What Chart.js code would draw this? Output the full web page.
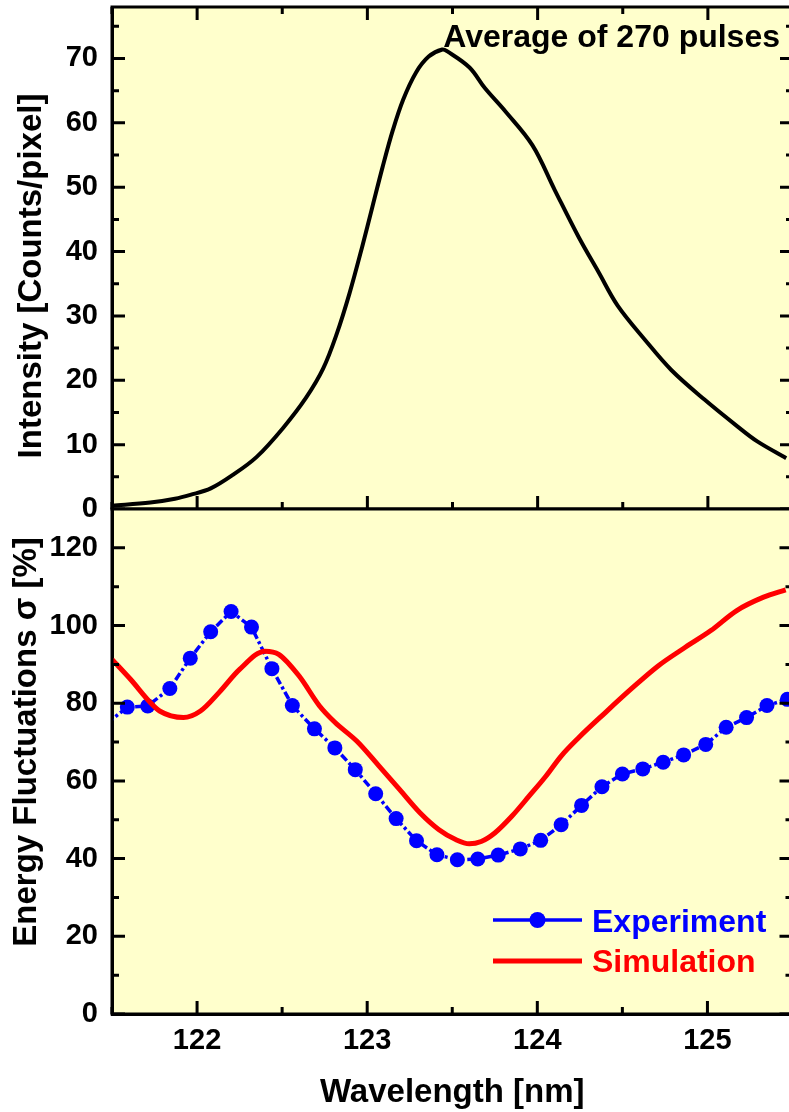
<!DOCTYPE html>
<html>
<head>
<meta charset="utf-8">
<script src="https://cdn.jsdelivr.net/npm/chart.js@4.4.1/dist/chart.umd.min.js"></script>
<style>
html,body{margin:0;padding:0;background:#ffffff;overflow:hidden;width:789px;height:1112px;}
#topChart{position:absolute;left:0;top:0;width:800px;height:522px;}
#botChart{position:absolute;left:0;top:500px;width:800px;height:612px;}
</style>
</head>
<body>
<canvas id="topChart" width="800" height="522"></canvas>
<canvas id="botChart" width="800" height="612"></canvas>
<script>
// ---------- data ----------
const X_MIN = 121.5, X_MAX = 125.5;
const xMajorTicks = [122, 123, 124, 125];
const xMinorTicks = [121.5, 122.5, 123.5, 124.5, 125.5];
const intensityMajorTicks = [0, 10, 20, 30, 40, 50, 60, 70];
const intensityMinorTicks = [5, 15, 25, 35, 45, 55, 65, 75];
const sigmaMajorTicks = [0, 20, 40, 60, 80, 100, 120];
const sigmaMinorTicks = [10, 30, 50, 70, 90, 110];

const intensityWavelength = [121.50, 121.725, 121.87, 121.96, 122.08, 122.21, 122.35, 122.505, 122.64, 122.74, 122.82, 122.895, 122.97, 123.03, 123.09, 123.15, 123.21, 123.285, 123.36, 123.44, 123.47, 123.60, 123.69, 123.81, 123.97, 124.10, 124.24, 124.36, 124.47, 124.63, 124.785, 124.98, 125.175, 125.29, 125.46];
const intensityCounts = [0.5, 1.0, 1.6, 2.2, 3.2, 5.3, 8.1, 12.6, 17.3, 21.8, 27.2, 33.5, 40.8, 47.0, 53.2, 58.9, 63.6, 67.8, 70.3, 71.4, 71.1, 68.6, 65.4, 61.8, 56.5, 49.6, 42.3, 36.7, 31.6, 26.3, 21.6, 17.0, 12.8, 10.5, 7.9];

const experimentWavelength = [121.47, 121.59, 121.71, 121.84, 121.96, 122.08, 122.20, 122.32, 122.44, 122.56, 122.69, 122.81, 122.93, 123.05, 123.17, 123.29, 123.41, 123.53, 123.65, 123.77, 123.90, 124.02, 124.14, 124.26, 124.38, 124.50, 124.62, 124.74, 124.86, 124.99, 125.11, 125.23, 125.35, 125.47];
const experimentSigma = [74.8, 79.0, 79.3, 83.8, 91.6, 98.4, 103.6, 99.6, 88.9, 79.4, 73.4, 68.5, 62.9, 56.7, 50.3, 44.6, 41.0, 39.7, 39.9, 40.9, 42.5, 44.7, 48.7, 53.7, 58.5, 61.8, 63.1, 64.8, 66.7, 69.4, 73.8, 76.3, 79.4, 81.0];

const simulationWavelength = [121.50, 121.61, 121.725, 121.78, 121.92, 122.02, 122.13, 122.25, 122.40, 122.48, 122.60, 122.72, 122.81, 122.94, 123.07, 123.19, 123.31, 123.42, 123.52, 123.60, 123.67, 123.75, 123.85, 123.95, 124.05, 124.14, 124.24, 124.40, 124.55, 124.71, 124.87, 125.02, 125.17, 125.33, 125.46];
const simulationSigma = [91.3, 86.1, 80.2, 78.0, 76.3, 78.0, 82.8, 88.7, 93.4, 92.6, 87.0, 79.3, 75.1, 70.2, 63.8, 57.8, 51.8, 47.5, 44.9, 43.8, 44.4, 46.6, 50.9, 56.0, 61.2, 66.4, 71.0, 77.6, 83.6, 89.6, 94.4, 98.7, 103.8, 107.3, 109.2];

const topYTitle = 'Intensity [Counts/pixel]';
const botYTitle = 'Energy Fluctuations \u03c3 [%]';
const xTitle = 'Wavelength [nm]';
const annotationText = 'Average of 270 pulses';
const experimentLabel = 'Experiment';
const simulationLabel = 'Simulation';

// ---------- helpers ----------
const FONT = '"Liberation Sans", Arial, Helvetica, sans-serif';
const BG = '#FFFFCC';
const toXY = (xs, ys) => xs.map((x, i) => ({x: x, y: ys[i]}));
const setTicks = arr => (s => { s.ticks = arr.map(v => ({value: v})); });
const fitY = s => { s.width = 112; s.paddingTop = 0; s.paddingBottom = 0; s.paddingLeft = 0; s.paddingRight = 0; };
const fitX = h => (s => { s.height = h; s.paddingLeft = 0; s.paddingRight = 0; s.paddingTop = 0; s.paddingBottom = 0; });

const framePlugin = {
  id: 'frame',
  beforeDraw(chart, args, opts) {
    const {ctx, chartArea: a} = chart;
    ctx.save();
    ctx.fillStyle = BG;
    ctx.fillRect(a.left, a.top, a.right - a.left, a.bottom - a.top);
    ctx.restore();
  },
  afterDraw(chart, args, opts) {
    const {ctx, chartArea: a, scales} = chart;
    const xs = scales.x, ys = scales.y;
    const MAJ = 13, MIN = 7;
    ctx.save();
    ctx.strokeStyle = '#000';
    ctx.lineWidth = 3;
    ctx.lineCap = 'butt';
    ctx.beginPath();
    const xt = (vals, len) => vals.forEach(v => {
      const p = xs.getPixelForValue(v);
      ctx.moveTo(p, a.bottom); ctx.lineTo(p, a.bottom - len);
      if (opts.topTicks) { ctx.moveTo(p, a.top); ctx.lineTo(p, a.top + len); }
    });
    const yt = (vals, len) => vals.forEach(v => {
      const p = ys.getPixelForValue(v);
      ctx.moveTo(a.left, p); ctx.lineTo(a.left + len, p);
      ctx.moveTo(a.right, p); ctx.lineTo(a.right - len, p);
    });
    xt(xMajorTicks, MAJ); xt(xMinorTicks, MIN);
    yt(opts.yMajor, MAJ); yt(opts.yMinor, MIN);
    ctx.stroke();
    ctx.lineJoin = 'miter';
    ctx.strokeRect(a.left, a.top, a.right - a.left, a.bottom - a.top);

    // rotated y title
    ctx.fillStyle = '#000';
    ctx.font = 'bold 33px ' + FONT;
    ctx.textAlign = 'center';
    ctx.textBaseline = 'alphabetic';
    ctx.save();
    ctx.translate(opts.yTitleX, opts.yTitleY);
    ctx.rotate(-Math.PI / 2);
    ctx.fillText(opts.yTitle, 0, 0);
    ctx.restore();

    if (opts.annotation) {
      ctx.font = 'bold 32px ' + FONT;
      ctx.textAlign = 'right';
      ctx.fillText(opts.annotation, a.right - 13, a.top + 40);
    }
    if (opts.legend) {
      const ds = chart.data.datasets;
      const rows = [
        {d: ds[0], lineY: a.bottom - 94, textY: a.bottom - 82, dot: true},
        {d: ds[1], lineY: a.bottom - 53, textY: a.bottom - 42, dot: false}
      ];
      rows.forEach(r => {
        ctx.strokeStyle = r.d.borderColor;
        ctx.lineWidth = r.d.borderWidth;
        ctx.setLineDash([]);
        ctx.beginPath();
        ctx.moveTo(493, r.lineY); ctx.lineTo(582, r.lineY);
        ctx.stroke();
        if (r.dot) {
          ctx.fillStyle = r.d.borderColor;
          ctx.beginPath(); ctx.arc(537.5, r.lineY, 8, 0, Math.PI * 2); ctx.fill();
        }
        ctx.fillStyle = r.d.borderColor;
        ctx.font = 'bold 32px ' + FONT;
        ctx.textAlign = 'left';
        ctx.fillText(r.d.label, 592, r.textY);
      });
    }
    ctx.restore();
  }
};

const tickFont = {family: FONT, size: 29, weight: 'bold'};

// ---------- top chart ----------
new Chart(document.getElementById('topChart'), {
  type: 'line',
  data: {
    datasets: [{
      label: 'Intensity',
      data: toXY(intensityWavelength, intensityCounts),
      borderColor: '#000000',
      borderWidth: 4,
      pointRadius: 0,
      tension: 0.35,
      fill: false
    }]
  },
  options: {
    responsive: false,
    devicePixelRatio: 1,
    animation: false,
    events: [],
    layout: {padding: {top: 7, right: 7, left: 0, bottom: 0}},
    plugins: {
      legend: {display: false},
      tooltip: {enabled: false},
      frame: {topTicks: true, yMajor: intensityMajorTicks, yMinor: intensityMinorTicks,
              yTitle: topYTitle, yTitleX: 41, yTitleY: 276, annotation: annotationText}
    },
    scales: {
      x: {
        type: 'linear', min: X_MIN, max: X_MAX, position: 'bottom',
        afterBuildTicks: setTicks(xMajorTicks),
        ticks: {display: false},
        grid: {display: false, drawTicks: false},
        border: {display: true, color: '#000', width: 3},
        afterFit: fitX(13)
      },
      y: {
        type: 'linear', min: 0, max: 78, position: 'left',
        afterBuildTicks: setTicks(intensityMajorTicks),
        ticks: {font: tickFont, color: '#000', padding: 14},
        grid: {display: false, drawTicks: false},
        border: {display: true, color: '#000', width: 3},
        afterFit: fitY
      }
    }
  },
  plugins: [framePlugin]
});

// ---------- bottom chart ----------
new Chart(document.getElementById('botChart'), {
  type: 'line',
  data: {
    datasets: [{
      label: experimentLabel,
      data: toXY(experimentWavelength, experimentSigma),
      borderColor: '#0000FF',
      backgroundColor: '#0000FF',
      borderWidth: 3.5,
      borderDash: [8, 3, 3, 3],
      pointRadius: c => (c.raw && c.raw.x < X_MIN ? 0 : 7.5),
      pointBackgroundColor: '#0000FF',
      pointBorderWidth: 0,
      tension: 0,
      fill: false,
      order: 1
    }, {
      label: simulationLabel,
      data: toXY(simulationWavelength, simulationSigma),
      borderColor: '#FF0000',
      backgroundColor: '#FF0000',
      borderWidth: 5,
      pointRadius: 0,
      cubicInterpolationMode: 'monotone',
      fill: false,
      order: 0
    }]
  },
  options: {
    responsive: false,
    devicePixelRatio: 1,
    animation: false,
    events: [],
    layout: {padding: {top: 9, right: 7, left: 0, bottom: 0}},
    plugins: {
      legend: {display: false},
      tooltip: {enabled: false},
      frame: {topTicks: false, yMajor: sigmaMajorTicks, yMinor: sigmaMinorTicks,
              yTitle: botYTitle, yTitleX: 36, yTitleY: 242, legend: true}
    },
    scales: {
      x: {
        type: 'linear', min: X_MIN, max: X_MAX, position: 'bottom',
        afterBuildTicks: setTicks(xMajorTicks),
        ticks: {font: tickFont, color: '#000', padding: 10, maxRotation: 0, autoSkip: false},
        grid: {display: false, drawTicks: false},
        border: {display: true, color: '#000', width: 3},
        title: {display: true, text: xTitle, color: '#000',
                font: {family: FONT, size: 33, weight: 'bold', lineHeight: 1.0},
                padding: {top: 0, bottom: 3}},
        afterFit: fitX(98)
      },
      y: {
        type: 'linear', min: 0, max: 130, position: 'left',
        afterBuildTicks: setTicks(sigmaMajorTicks),
        ticks: {font: tickFont, color: '#000', padding: 14},
        grid: {display: false, drawTicks: false},
        border: {display: true, color: '#000', width: 3},
        afterFit: fitY
      }
    }
  },
  plugins: [framePlugin]
});
</script>
</body>
</html>
